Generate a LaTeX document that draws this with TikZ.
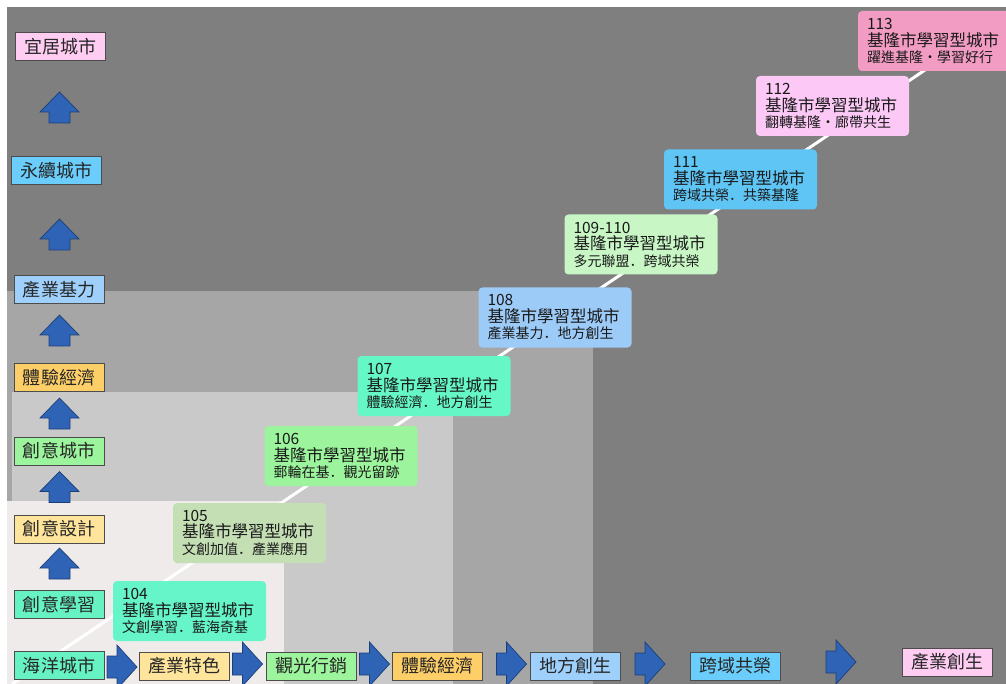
\documentclass[tikz,border=0pt]{standalone}
\usepackage{fontspec}
\setmainfont{Noto Sans CJK TC}
\newfontfamily\jpfont{Noto Sans CJK JP}
\definecolor{bgdark}{HTML}{7F7F7F}
\definecolor{bgmid}{HTML}{A6A6A6}
\definecolor{bglight}{HTML}{C9C9C9}
\definecolor{bgpale}{HTML}{EFEBEB}
\definecolor{arrfill}{HTML}{2F63B6}
\definecolor{arrline}{HTML}{1C3E78}
\definecolor{cpink}{HTML}{FFCCF2}
\definecolor{cblue}{HTML}{6BCDFB}
\definecolor{cpale}{HTML}{9FD0FB}
\definecolor{corange}{HTML}{FECF68}
\definecolor{cgreen}{HTML}{9CF59C}
\definecolor{cyellow}{HTML}{FFE59C}
\definecolor{caqua}{HTML}{66F2C2}
\definecolor{dA}{HTML}{66F5C8}
\definecolor{dB}{HTML}{C5DFB5}
\definecolor{dC}{HTML}{9CF59C}
\definecolor{dD}{HTML}{66F7C6}
\definecolor{dE}{HTML}{9DCBF8}
\definecolor{dF}{HTML}{C8F7C5}
\definecolor{dG}{HTML}{5EC5F5}
\definecolor{dH}{HTML}{FCC8F5}
\definecolor{dI}{HTML}{F29CC3}
\tikzset{
  lbox/.style={draw=black!70, line width=0.8pt, minimum width=90pt, minimum height=28pt,
    inner sep=0pt, text=black!85, font=\fontsize{18}{20}\selectfont},
  dbox/.style={rounded corners=4pt, minimum height=60pt, text width=135pt, inner xsep=9pt,
    inner ysep=0pt, align=left, text=black!90, font=\fontsize{14}{16.5}\selectfont},
  arrsty/.style={fill=arrfill, draw=arrline, line width=0.7pt},
  uparr/.pic={\filldraw[arrsty] (0,-15.5) -- (19.5,4.5) -- (10.5,4.5) -- (10.5,15.5)
     -- (-10.5,15.5) -- (-10.5,4.5) -- (-19.5,4.5) -- cycle;},
  rtarr/.pic={\filldraw[arrsty] (15,0) -- (-5,-22) -- (-5,-11) -- (-15,-11)
     -- (-15,11) -- (-5,11) -- (-5,22) -- cycle;}
}
\newcommand{\midline}[1]{{\fontsize{16.5}{16.5}\selectfont #1}}
\newcommand{\numline}[1]{{\fontsize{15.5}{16.5}\selectfont #1}}
\newcommand{\dotp}{{\jpfont ．}}
\begin{document}
\begin{tikzpicture}[x=1pt,y=-1pt]
\useasboundingbox (0,0) rectangle (1006,684);
\fill[white] (0,0) rectangle (1006,684);
\fill[bgdark] (7,7) rectangle (1006,684);
\fill[bgmid] (7,291) rectangle (593,684);
\fill[bglight] (12,392) rectangle (453,684);
\fill[bgpale] (7,501) rectangle (284,684);
% diagonal line
\coordinate (ls) at (12,684);
\coordinate (le) at (925,70);
\draw[white, line width=3pt] (ls) -- (le);
% left column
\node[lbox, fill=cpink]   (l1) at (60,46.5)  {宜居城市};
\node[lbox, fill=cblue]   (l2) at (56.5,170.5) {永續城市};
\node[lbox, fill=cpale]   (l3) at (59,289.5) {產業基力};
\node[lbox, fill=corange] (l4) at (59,377.5) {體驗經濟};
\node[lbox, fill=cgreen]  (l5) at (59,451)   {創意城市};
\node[lbox, fill=cyellow] (l6) at (59,529)   {創意設計};
\node[lbox, fill=caqua]   (l7) at (59,604.5) {創意學習};
\node[lbox, fill=caqua]   (l8) at (59,665.5) {海洋城市};
\pic at (59.5,107.5) {uparr};
\pic at (59.5,234.5) {uparr};
\pic at (59.5,330.5) {uparr};
\pic at (59.5,413.5) {uparr};
\pic at (59.5,487)   {uparr};
\pic at (59.5,563.5) {uparr};
% bottom row
\node[lbox, fill=cyellow] (r2) at (184.5,666) {產業特色};
\node[lbox, fill=cgreen]  (r3) at (311,666)   {觀光行銷};
\node[lbox, fill=corange] (r4) at (437.5,666) {體驗經濟};
\node[lbox, fill=cpale]   (r5) at (575.5,666) {地方創生};
\node[lbox, fill=cblue]   (r6) at (735,666)   {跨域共榮};
\node[lbox, fill=cpink]   (r7) at (947,662)   {產業創生};
\pic at (122,667) {rtarr};
\pic at (247.5,664) {rtarr};
\pic at (374.5,664) {rtarr};
\pic at (511.5,664) {rtarr};
\pic at (650,664)   {rtarr};
\pic at (841,662)   {rtarr};
% diagonal boxes
\node[dbox, fill=dA] (b104) at (189.5,611) {\numline{104}\\\midline{基隆市學習型城市}\\文創學習\dotp 藍海奇基};
\node[dbox, fill=dB] (b105) at (249.5,533) {\numline{105}\\\midline{基隆市學習型城市}\\文創加值\dotp 產業應用};
\node[dbox, fill=dC] (b106) at (341,456)   {\numline{106}\\\midline{基隆市學習型城市}\\郵輪在基\dotp 觀光留跡};
\node[dbox, fill=dD] (b107) at (434,386)   {\numline{107}\\\midline{基隆市學習型城市}\\體驗經濟\dotp 地方創生};
\node[dbox, fill=dE] (b108) at (555,317.5) {\numline{108}\\\midline{基隆市學習型城市}\\產業基力\dotp 地方創生};
\node[dbox, fill=dF] (b109) at (641,244.5) {\numline{109-110}\\\midline{基隆市學習型城市}\\多元聯盟\dotp 跨域共榮};
\node[dbox, fill=dG] (b111) at (740.5,179.5) {\numline{111}\\\midline{基隆市學習型城市}\\跨域共榮\dotp 共築基隆};
\node[dbox, fill=dH] (b112) at (832.5,106) {\numline{112}\\\midline{基隆市學習型城市}\\翻轉基隆・廊帶共生};
\node[dbox, fill=dI] (b113) at (934.5,41)  {\numline{113}\\\midline{基隆市學習型城市}\\躍進基隆・學習好行};
\end{tikzpicture}
\end{document}
